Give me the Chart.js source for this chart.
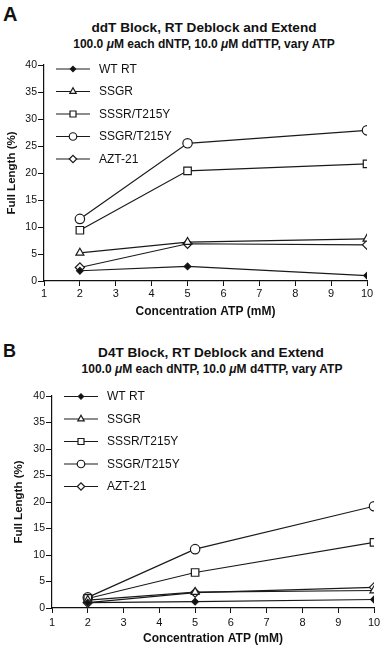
<!DOCTYPE html>
<html>
<head>
<meta charset="utf-8">
<script src="https://cdn.jsdelivr.net/npm/chart.js@4.4.1/dist/chart.umd.min.js"></script>
<style>
  html, body { margin: 0; padding: 0; background: #fff; }
  body { width: 384px; height: 648px; position: relative; overflow: hidden;
         font-family: "Liberation Sans", Arial, sans-serif; color: #111; }
  .letra { position: absolute; left: 3px; font-weight: bold; }
  .titulo { position: absolute; left: 0; text-align: center; font-weight: bold; white-space: nowrap; }
  canvas { position: absolute; left: 0; }
</style>
</head>
<body>
<div class="letra" style="top:4px;font-size:20px;line-height:20px">A</div>
<div class="titulo" style="width:408px;top:19px;font-size:13.6px;line-height:17px">ddT Block, RT Deblock and Extend</div>
<div class="titulo" style="width:408px;top:37px;font-size:12px;line-height:14px">100.0 <i>μ</i>M each dNTP, 10.0 <i>μ</i>M ddTTP, vary ATP</div>
<canvas id="graficoA" width="384" height="270" style="top:55px"></canvas>

<div class="letra" style="top:342px;font-size:18px;line-height:18px">B</div>
<div class="titulo" style="width:422px;top:344px;font-size:13.6px;line-height:17px">D4T Block, RT Deblock and Extend</div>
<div class="titulo" style="width:424px;top:362px;font-size:12px;line-height:14px">100.0 <i>μ</i>M each dNTP, 10.0 <i>μ</i>M d4TTP, vary ATP</div>
<canvas id="graficoB" width="384" height="263" style="top:385px"></canvas>

<script>
// Dados
const concATP = [2, 5, 10];
const nomesSeries = ["WT RT", "SSGR", "SSSR/T215Y", "SSGR/T215Y", "AZT-21"];
const ticksX = [1, 2, 3, 4, 5, 6, 7, 8, 9, 10];
const ticksY = [0, 5, 10, 15, 20, 25, 30, 35, 40];

// Painel A: ddT
const ddtWT       = [1.9, 2.7, 1.0];
const ddtSSGR     = [5.2, 7.2, 7.8];
const ddtSSSR     = [9.4, 20.4, 21.7];
const ddtSSGRT215 = [11.5, 25.5, 27.9];
const ddtAZT      = [2.5, 6.9, 6.7];

// Painel B: D4T
const d4tWT       = [1.0, 1.2, 1.6];
const d4tSSGR     = [1.5, 3.0, 3.3];
const d4tSSSR     = [1.8, 6.7, 12.4];
const d4tSSGRT215 = [2.0, 11.1, 19.2];
const d4tAZT      = [1.0, 2.9, 3.9];

// Estilo dos marcadores (mesma ordem das séries)
const estilos = [
  { pointStyle: "rectRot",  radius: 3.3, fill: "#111" },
  { pointStyle: "triangle", radius: 4.6, fill: "#fff" },
  { pointStyle: "rect",     radius: 5.3, fill: "#fff" },
  { pointStyle: "circle",   radius: 4.7, fill: "#fff" },
  { pointStyle: "rectRot",  radius: 4.6, fill: "#fff" }
];

const corLinha = "#1a1a1a";
const fonte = '"Liberation Sans", Arial, sans-serif';

// Legenda desenhada dentro da área do gráfico
const legendaInterna = {
  id: "legendaInterna",
  afterDatasetsDraw(chart, args, opts) {
    const { ctx, chartArea } = chart;
    ctx.save();
    chart.data.datasets.forEach((ds, i) => {
      const y = chartArea.top + opts.offsetY + i * opts.passo;
      const x0 = chartArea.left + 12, x1 = chartArea.left + 46;
      ctx.strokeStyle = corLinha;
      ctx.lineWidth = 1.2;
      ctx.beginPath(); ctx.moveTo(x0, y); ctx.lineTo(x1, y); ctx.stroke();
      ctx.fillStyle = ds.pointBackgroundColor;
      Chart.helpers.drawPoint(ctx, {
        pointStyle: ds.pointStyle, rotation: 0,
        radius: ds.pointRadius * 0.8, borderWidth: 1.2
      }, (x0 + x1) / 2, y);
      ctx.fillStyle = "#111";
      ctx.font = "12px " + fonte;
      ctx.textBaseline = "middle";
      ctx.textAlign = "left";
      ctx.fillText(ds.label, chartArea.left + 55, y + 0.5);
    });
    ctx.restore();
  }
};

function montaSeries(listas) {
  return listas.map((vals, i) => ({
    label: nomesSeries[i],
    data: concATP.map((x, k) => ({ x: x, y: vals[k] })),
    borderColor: corLinha,
    borderWidth: 1.2,
    pointStyle: estilos[i].pointStyle,
    pointRadius: estilos[i].radius,
    pointBackgroundColor: estilos[i].fill,
    pointBorderColor: corLinha,
    pointBorderWidth: 1.2,
    tension: 0
  }));
}

function criaGrafico(id, listas, cfg) {
  const ctx = document.getElementById(id);
  return new Chart(ctx.getContext("2d"), {
    type: "line",
    data: { datasets: montaSeries(listas) },
    options: {
      responsive: false,
      animation: false,
      layout: { padding: cfg.padding },
      plugins: {
        legend: { display: false },
        tooltip: { enabled: false },
        legendaInterna: { offsetY: cfg.legendaY, passo: 22.5 }
      },
      scales: {
        x: {
          type: "linear",
          min: ticksX[0], max: ticksX[ticksX.length - 1],
          afterBuildTicks: s => { s.ticks = ticksX.map(v => ({ value: v })); },
          afterFit: s => { s.height = cfg.alturaX; },
          ticks: { color: "#111", font: { family: fonte, size: 11 }, padding: cfg.padX, maxRotation: 0, autoSkip: false },
          grid: { drawOnChartArea: false, tickLength: 5, color: "#111", lineWidth: 1 },
          border: { color: "#111", width: 1.2 },
          title: { display: true, text: "Concentration ATP (mM)", color: "#111",
                   font: { family: fonte, size: 12, weight: "bold" }, padding: { top: 0, bottom: cfg.padTituloX } }
        },
        y: {
          min: ticksY[0], max: ticksY[ticksY.length - 1],
          afterBuildTicks: s => { s.ticks = ticksY.map(v => ({ value: v })); },
          afterFit: s => { s.width = 44; },
          ticks: { color: "#111", font: { family: fonte, size: 10.5 }, padding: 1 },
          grid: { drawOnChartArea: false, tickLength: 6, color: "#111", lineWidth: 1 },
          border: { color: "#111", width: 1.2 },
          title: { display: true, text: "Full Length (%)", color: "#111",
                   font: { family: fonte, size: 11.5, weight: "bold" }, padding: { top: cfg.padTituloY, bottom: 0 } }
        }
      }
    },
    plugins: [legendaInterna]
  });
}

criaGrafico("graficoA", [ddtWT, ddtSSGR, ddtSSSR, ddtSSGRT215, ddtAZT], {
  padding: { left: 0, right: 17, top: 10, bottom: 0 },
  alturaX: 44, padX: 1, padTituloX: 6, padTituloY: 5, legendaY: 4
});

criaGrafico("graficoB", [d4tWT, d4tSSGR, d4tSSSR, d4tSSGRT215, d4tAZT], {
  padding: { left: 8, right: 10, top: 11, bottom: 0 },
  alturaX: 40, padX: 3, padTituloX: 2, padTituloY: 4, legendaY: 0.5
});
</script>
</body>
</html>
